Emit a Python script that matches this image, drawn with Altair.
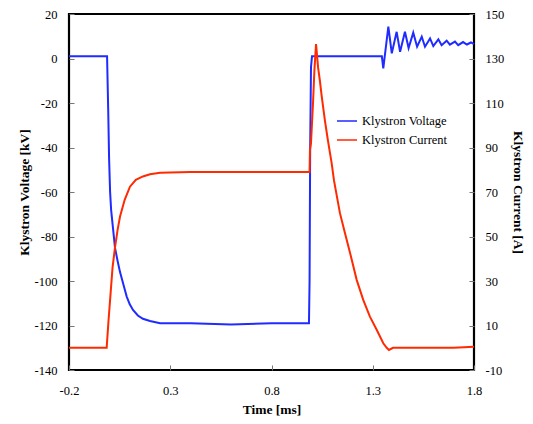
import altair as alt
import pandas as pd

# ---- data ----
v_time = [-0.2, -0.1, -0.012, -0.006, -0.002, 0.003, 0.008, 0.017, 0.027, 0.04, 0.052, 0.07,
          0.085, 0.1, 0.116, 0.14, 0.165, 0.2, 0.25, 0.4, 0.6, 0.8, 0.985, 0.988, 0.991, 0.995,
          1.0, 1.1, 1.2, 1.3, 1.345, 1.352, 1.377, 1.394, 1.418, 1.435, 1.459, 1.477, 1.5, 1.519,
          1.542, 1.558, 1.583, 1.599, 1.624, 1.64, 1.665, 1.681, 1.706, 1.722, 1.746, 1.765,
          1.785, 1.8]
v_kv = [1, 1, 1, -25, -45, -60, -68, -76, -85, -91, -96, -102,
        -107, -110.5, -113, -115.5, -117, -118, -119, -119, -119.5, -119, -119, -100, -40, -4,
        1, 1, 1, 1, 1, -4.4, 14.3, 2.3, 12, 3, 12, 4.7, 11.6, 5.3,
        9.8, 5.3, 9, 5.6, 8.6, 6, 8, 6.2, 7.6, 6, 7.4, 6.3,
        7.2, 6.5]

i_time = [-0.2, -0.1, -0.014, -0.005, 0.005, 0.015, 0.027, 0.04, 0.052, 0.075, 0.101, 0.13,
          0.165, 0.2, 0.25, 0.4, 0.6, 0.8, 0.988, 0.990, 0.995, 1.005, 1.012, 1.020, 1.030,
          1.039, 1.048, 1.064, 1.079, 1.097, 1.109, 1.138, 1.163, 1.188, 1.221, 1.253, 1.286,
          1.320, 1.352, 1.369, 1.38, 1.4, 1.5, 1.6, 1.7, 1.8]
i_amp = [0, 0, 0, 12, 24, 36, 45, 53, 59, 66.5, 72.4, 75.5,
         77, 78, 78.7, 79, 79, 79, 79, 89, 92, 110, 125, 136.5, 126,
         120, 113, 102, 93, 83, 75, 60.5, 51.5, 42.6, 30.4, 21.5, 14,
         8, 2, 0, -1, 0, 0, 0, 0, 0.5]

series_names = ["Klystron Voltage", "Klystron Current"]
series_colors = ["#1f2bff", "#ff2a00"]

left_ticks = [-140, -120, -100, -80, -60, -40, -20, 0, 20]
right_ticks = [-10, 10, 30, 50, 70, 90, 110, 130, 150]
x_ticks = [-0.2, 0.3, 0.8, 1.3, 1.8]

df_v = pd.DataFrame({"t": v_time, "val": v_kv, "series": series_names[0]})
df_i = pd.DataFrame({"t": i_time, "val": i_amp, "series": series_names[1]})

FONT = "Liberation Serif"

color = alt.Color(
    "series:N",
    scale=alt.Scale(domain=series_names, range=series_colors),
    legend=alt.Legend(
        title=None, orient="none", legendX=267, legendY=96,
        symbolType="stroke", symbolSize=400, symbolStrokeWidth=1.5,
        labelFont=FONT, labelFontSize=12.5, labelColor="black",
        rowPadding=1, labelOffset=4,
    ),
)

x_enc = alt.X(
    "t:Q",
    scale=alt.Scale(domain=[-0.2, 1.8], nice=False, zero=False),
    axis=alt.Axis(
        title="Time [ms]", values=x_ticks, labelExpr="'' + datum.value", offset=-5, tickSize=5,
        domain=False, grid=False, labelPadding=14, titlePadding=6, labelFlush=False,
        labelFont=FONT, labelFontSize=12.5, labelColor="black", tickColor="#777",
        titleFont=FONT, titleFontSize=13.5, titleFontWeight="bold", titleColor="black",
    ),
)

volt = alt.Chart(df_v).mark_line(strokeWidth=2).encode(
    x=x_enc,
    y=alt.Y(
        "val:Q",
        scale=alt.Scale(domain=[-140, 20], nice=False, zero=False),
        axis=alt.Axis(
            title="Klystron Voltage [kV]", values=left_ticks, labelExpr="'' + datum.value",
            offset=-5, tickSize=5, domain=False, grid=False, labelPadding=12, titlePadding=3,
            labelFlush=False,
            labelFont=FONT, labelFontSize=12.5, labelColor="black", tickColor="#777",
            titleFont=FONT, titleFontSize=13.5, titleFontWeight="bold", titleColor="black",
        ),
    ),
    color=color,
)

curr = alt.Chart(df_i).mark_line(strokeWidth=2).encode(
    x=x_enc,
    y=alt.Y(
        "val:Q",
        scale=alt.Scale(domain=[-10, 150], nice=False, zero=False),
        axis=alt.Axis(
            title="Klystron Current [A]", orient="right", values=right_ticks,
            labelExpr="'' + datum.value", offset=-5, labelFlush=False,
            tickSize=5, domain=False, grid=False, labelPadding=11, titlePadding=7,
            titleAngle=90,
            labelFont=FONT, labelFontSize=12.5, labelColor="black", tickColor="#777",
            titleFont=FONT, titleFontSize=13.5, titleFontWeight="bold", titleColor="black",
        ),
    ),
    color=color,
)

chart = alt.layer(volt, curr).resolve_scale(y="independent").properties(
    width=405, height=356,
    autosize=alt.AutoSizeParams(type="none"),
    padding={"left": 61, "top": 6, "right": 51, "bottom": 46},
    background="white",
).configure_view(stroke="black", strokeWidth=2.2)

chart.save("out.html", embed_options={"renderer": "svg", "actions": False})
